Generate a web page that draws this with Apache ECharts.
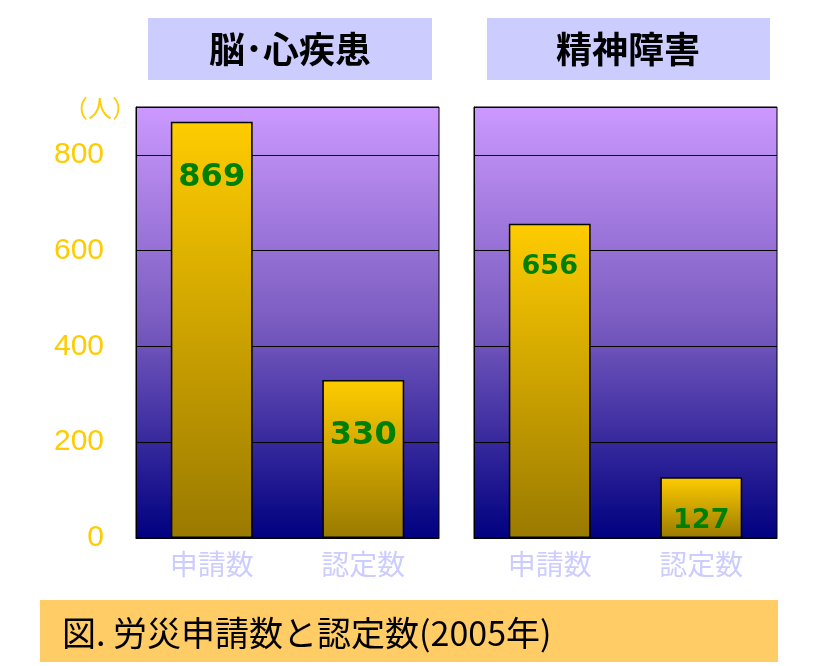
<!DOCTYPE html>
<html><head><meta charset="utf-8">
<script src="https://cdn.jsdelivr.net/npm/echarts@6/dist/echarts.min.js"></script>
<style>html,body{margin:0;padding:0;background:#fff}#c{width:835px;height:666px}</style>
</head><body><div id="c"></div>
<script>
const categories = ['申請数', '認定数'];
const brainHeart = [869, 330];
const mental = [656, 127];
const panelTitles = ['脳･心疾患', '精神障害'];
const yTicks = [0, 200, 400, 600, 800];
const caption = '図. 労災申請数と認定数(2005年)';

const chart = echarts.init(document.getElementById('c'));
const bgGrad = new echarts.graphic.LinearGradient(0,0,0,1,[{offset:0,color:'#CC99FF'},{offset:0.5,color:'#7A5CC0'},{offset:1,color:'#000080'}]);
const barGrad = new echarts.graphic.LinearGradient(0,0,0,1,[{offset:0,color:'#FFCC00'},{offset:1,color:'#9A7A00'}]);
const font = '"Noto Sans CJK JP", sans-serif';
function grid(left){return {left:left,top:107,width:303,height:431,show:true,backgroundColor:bgGrad,borderColor:'#000',borderWidth:1};}
function xAx(i){return {type:'category',gridIndex:i,data:categories,axisTick:{show:false},axisLine:{lineStyle:{color:'#000'}},
  axisLabel:{color:'#CCCCFF',fontSize:28,fontFamily:font,margin:12}};}
function yAx(i,show){return {type:'value',gridIndex:i,min:0,max:900,interval:200,
  axisLine:{show:true,lineStyle:{color:'#000'}},axisTick:{show:false},
  splitLine:{show:true,lineStyle:{color:'#000',width:1}},
  axisLabel:{show:show,color:'#FFCC00',fontSize:30,fontFamily:'Arial, sans-serif',margin:32,
    formatter:v=>yTicks.includes(v)?String(v):''}};}
function ser(i,data,fs,dist){return {type:'bar',xAxisIndex:i,yAxisIndex:i,data:data,barWidth:'54%',
  itemStyle:{color:barGrad,borderColor:'#000',borderWidth:1.5},
  label:{show:true,position:'insideTop',distance:dist,color:'#008000',fontSize:fs,fontWeight:'bold',fontFamily:'"DejaVu Sans", sans-serif'}};}
chart.setOption({
  animation:false,
  grid:[grid(136),grid(474)],
  xAxis:[xAx(0),xAx(1)],
  yAxis:[yAx(0,true),yAx(1,false)],
  series:[ser(0,brainHeart,32,40),ser(1,mental,27,30)],
  graphic:[
    {type:'rect',shape:{x:148,y:18,width:284,height:62},style:{fill:'#CCCCFF'}},
    {type:'text',x:290,y:49,style:{text:panelTitles[0],font:'bold 36px '+font,fill:'#000',align:'center',verticalAlign:'middle'}},
    {type:'rect',shape:{x:487,y:18,width:283,height:62},style:{fill:'#CCCCFF'}},
    {type:'text',x:628,y:49,style:{text:panelTitles[1],font:'bold 36px '+font,fill:'#000',align:'center',verticalAlign:'middle'}},
    {type:'text',x:100,y:108,style:{text:'（人）',font:'24px '+font,fill:'#FFCC00',align:'center',verticalAlign:'middle'}},
    {type:'rect',shape:{x:40,y:600,width:738,height:62},style:{fill:'#FFCC66'}},
    {type:'text',x:62,y:633,style:{text:caption,font:'34px '+font,fill:'#000',align:'left',verticalAlign:'middle'}}
  ]
});
</script></body></html>
